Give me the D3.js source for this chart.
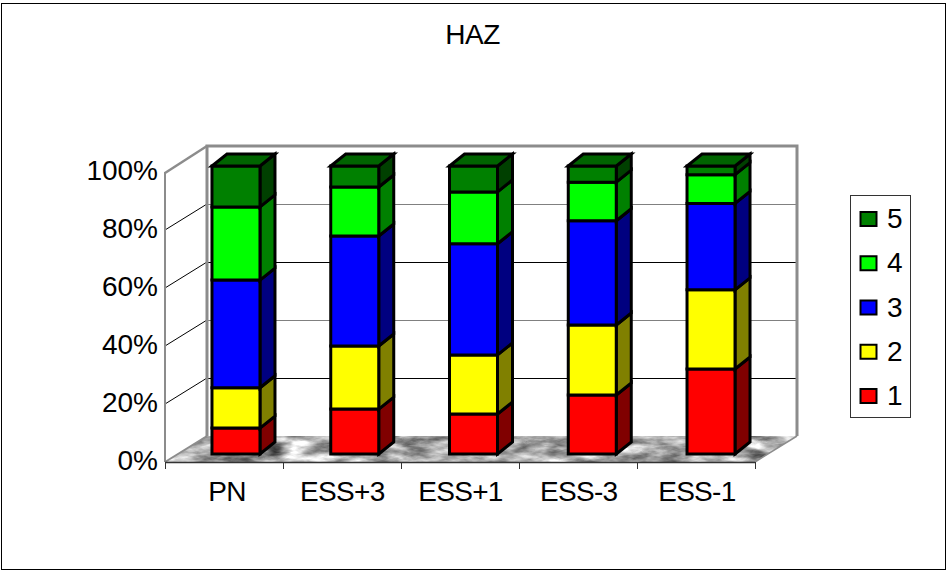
<!DOCTYPE html>
<html><head><meta charset="utf-8">
<script src="https://cdnjs.cloudflare.com/ajax/libs/d3/7.8.5/d3.min.js"></script>
<style>html,body{margin:0;padding:0;background:#fff}svg{display:block}text{font-family:"Liberation Sans",Arial,sans-serif;fill:#000}</style>
</head><body><script>
const categories = ["PN","ESS+3","ESS+1","ESS-3","ESS-1"];
const seriesNames = ["1","2","3","4","5"];
const s1 = [9, 15.6, 13.9, 20.5, 29.5];
const s2 = [14, 21.9, 20.5, 24.3, 27.5];
const s3 = [37.4, 38.2, 38.6, 36.2, 30];
const s4 = [25.4, 17, 18, 13.4, 10];
const s5 = [14.2, 7.3, 9, 5.6, 3];
const seriesValues = [s1, s2, s3, s4, s5];
const frontColors = ["#ff0000","#ffff00","#0000ff","#00ff00","#008000"];
const sideColors = ["#800000","#808000","#000080","#008000","#004000"];
const topColor = "#006400";
const yTicks = [0,20,40,60,80,100];

const W=947,H=571;
const svg=d3.select("body").append("svg").attr("width",W).attr("height",H);
const defs=svg.append("defs");
const f=defs.append("filter").attr("id","marble").attr("x","0").attr("y","0").attr("width","1").attr("height","1").attr("color-interpolation-filters","sRGB");
f.append("feTurbulence").attr("type","fractalNoise").attr("baseFrequency","0.035 0.11").attr("numOctaves",4).attr("seed",7);
f.append("feColorMatrix").attr("type","matrix").attr("values","0.8 0.8 0 0 -0.13  0.8 0.8 0 0 -0.13  0.8 0.8 0 0 -0.13  0 0 0 0 1");

svg.append("rect").attr("x",1.5).attr("y",3.5).attr("width",944).attr("height",566).attr("fill","#fff").attr("stroke","#000").attr("stroke-width",1);

const x=d3.scaleBand().domain(categories).range([165,755]);
const y=d3.scaleLinear().domain([0,100]).range([462,172]);
const barX=d3.scaleBand().domain(categories).range([176.6,770.4]);
const barY=d3.scaleLinear().domain([0,100]).range([454,166]);
const DX=42,DY=-26;             // wall depth
const DBX=15,DBY=-12;           // bar depth
const barW=48;
const line=pts=>"M"+pts.map(p=>p.join(",")).join("L")+"Z";

// floor
const floorPts=[[x.range()[0],y(0)],[x.range()[0]+DX,y(0)+DY],[x.range()[1]+DX,y(0)+DY],[x.range()[1],y(0)]];
defs.append("clipPath").attr("id","floorClip").append("path").attr("d",line(floorPts));
svg.append("g").attr("clip-path","url(#floorClip)").append("rect").attr("x",160).attr("y",430).attr("width",645).attr("height",36).attr("filter","url(#marble)");

// gridlines
const grid=svg.append("g");
yTicks.filter(t=>t>0).forEach(t=>{
  const yy=y(t);
  const c=(t===100||t===80||t===40)?"#808080":"#000";
  if(t<100){
    grid.append("line").attr("x1",x.range()[0]).attr("y1",yy).attr("x2",x.range()[0]+DX).attr("y2",yy+DY).attr("stroke","#000").attr("stroke-width",1);
    grid.append("line").attr("x1",x.range()[0]+DX).attr("y1",yy+DY+.5).attr("x2",x.range()[1]+DX).attr("y2",yy+DY+.5).attr("stroke",c).attr("stroke-width",1);
  }
});
// walls frame
const wall=svg.append("g").attr("fill","none").attr("stroke","#8c8c8c");
const xl=x.range()[0],xr=x.range()[1];
wall.append("path").attr("stroke-width",3).attr("d",`M${xl+DX},${y(0)+DY}V${y(100)+DY}H${xr+DX}V${y(0)+DY}`);
wall.append("path").attr("stroke-width",2.5).attr("d",`M${xl},${y(100)+1}L${xl+DX},${y(100)+DY}`);
wall.append("path").attr("stroke-width",2).attr("d",`M${xl},${y(0)}V${y(100)}`);
wall.append("path").attr("stroke-width",2).attr("d",`M${xl},${y(0)}L${xl+DX},${y(0)+DY}`);
wall.append("path").attr("stroke-width",1.5).attr("d",`M${xr},${y(0)}L${xr+DX},${y(0)+DY}`);

// axis baseline + ticks
const axisG=svg.append("g");
axisG.append("line").attr("x1",xl).attr("x2",xr).attr("y1",y(0)+.5).attr("y2",y(0)+.5).attr("stroke","#333").attr("stroke-width",1.5);
[...categories.map(c=>x(c)),xr].forEach(t=>axisG.append("line").attr("x1",t+.5).attr("x2",t+.5).attr("y1",y(0)).attr("y2",y(0)+7).attr("stroke","#333").attr("stroke-width",1));
const labelX=d3.scaleBand().domain(categories).range([165,756]);
categories.forEach((c,i)=>axisG.append("text").attr("x",labelX(c)+labelX.bandwidth()/2+(i===0?3:0)).attr("y",501).attr("text-anchor","middle").attr("font-size",28).attr("letter-spacing",-.7).text(c));
yTicks.forEach(t=>axisG.append("text").attr("x",158).attr("y",y(t)+8).attr("text-anchor","end").attr("font-size",28).text(t+"%"));

// bars
const bars=svg.append("g").attr("stroke","#000").attr("stroke-width",3).attr("stroke-linejoin","miter");
categories.forEach((c,i)=>{
  const x0=barX(c)+barX.bandwidth()/2-barW/2, x1=x0+barW;
  let cum=0;
  const stacks=seriesValues.map((sv,k)=>{const a=cum;cum+=sv[i];return {k,a,b:cum};});
  const py=v=>barY(v);
  stacks.forEach(s=>{
    bars.append("path").attr("fill",sideColors[s.k]).attr("d",line([[x1,py(s.a)],[x1+DBX,py(s.a)+DBY],[x1+DBX,py(s.b)+DBY],[x1,py(s.b)]]));
    bars.append("path").attr("fill",frontColors[s.k]).attr("d",line([[x0,py(s.a)],[x1,py(s.a)],[x1,py(s.b)],[x0,py(s.b)]]));
  });
  const t=stacks[stacks.length-1].b;
  bars.append("path").attr("fill",topColor).attr("d",line([[x0,py(t)],[x0+DBX,py(t)+DBY],[x1+DBX,py(t)+DBY],[x1,py(t)]]));
});

// title
svg.append("text").attr("x",472.5).attr("y",44).attr("text-anchor","middle").attr("font-size",28).attr("letter-spacing",-.5).text("HAZ");

// legend
const lg=svg.append("g");
lg.append("rect").attr("x",850.5).attr("y",195.5).attr("width",60).attr("height",222).attr("fill","#fff").attr("stroke","#333").attr("stroke-width",1);
const ly=d3.scalePoint().domain(seriesNames.slice().reverse()).range([219,396]);
seriesNames.forEach((n,k)=>{
  lg.append("rect").attr("x",860.5).attr("y",ly(n)-7).attr("width",16).attr("height",14).attr("fill",frontColors[k]).attr("stroke","#000").attr("stroke-width",2);
  lg.append("text").attr("x",887).attr("y",ly(n)+9).attr("font-size",28).text(n);
});
</script></body></html>
